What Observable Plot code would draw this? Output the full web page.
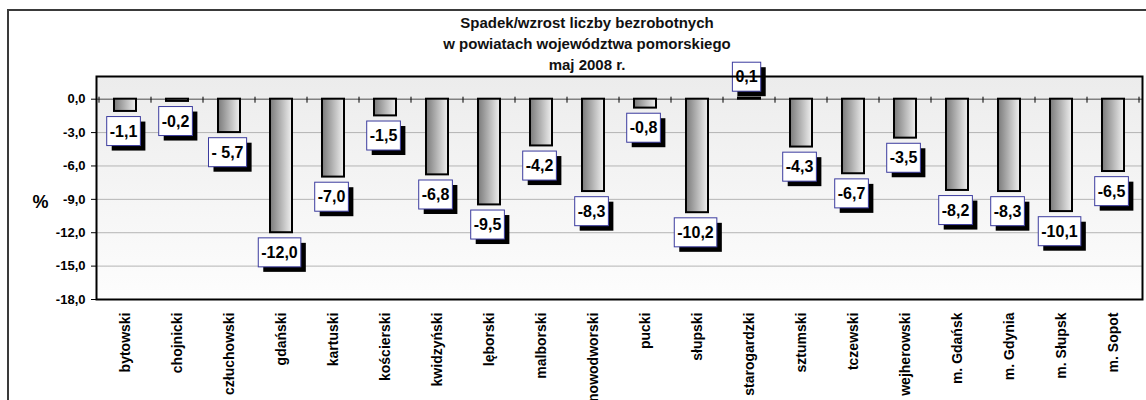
<!DOCTYPE html>
<html><head><meta charset="utf-8">
<script src="https://cdn.jsdelivr.net/npm/d3@7"></script>
<script src="https://cdn.jsdelivr.net/npm/@observablehq/plot@0.6"></script>
<style>
html,body{margin:0;padding:0;background:#fff;overflow:hidden;width:1146px;height:400px;}
#wrap{position:relative;width:1146px;height:400px;font-family:"Liberation Sans",Arial,sans-serif;}
#outer{position:absolute;left:7px;top:9px;width:1200px;height:500px;border:2px solid #3a3a3a;box-sizing:border-box;}
#title{position:absolute;left:387px;width:400px;top:12px;text-align:center;font-weight:bold;font-size:15px;line-height:21px;color:#111;}
#chart{position:absolute;left:0;top:0;}
</style></head><body>
<div id="wrap"><div id="outer"></div><div id="chart"></div>
<div id="title">Spadek/wzrost liczby bezrobotnych<br>w powiatach województwa pomorskiego<br>maj 2008 r.</div></div>
<script>
const categories = ["bytowski","chojnicki","człuchowski","gdański","kartuski","kościerski","kwidzyński","lęborski","malborski","nowodworski","pucki","słupski","starogardzki","sztumski","tczewski","wejherowski","m. Gdańsk","m. Gdynia","m. Słupsk","m. Sopot"];
const values = [-1.1,-0.2,-3.0,-12.0,-7.0,-1.5,-6.8,-9.5,-4.2,-8.3,-0.8,-10.2,0.1,-4.3,-6.7,-3.5,-8.2,-8.3,-10.1,-6.5];
const labels = ["-1,1","-0,2","- 5,7","-12,0","-7,0","-1,5","-6,8","-9,5","-4,2","-8,3","-0,8","-10,2","0,1","-4,3","-6,7","-3,5","-8,2","-8,3","-10,1","-6,5"];
const yTicks = [0,-3,-6,-9,-12,-15,-18];
const gridLines = [-3,-6,-9,-12,-15];
const yDomain = [-18, 2.04];

const data = categories.map((c,i)=>({name:c, value:values[i], label:labels[i]}));

function zeroTicks(index, scales) {
  const x = scales.x, y = scales.y;
  const step = x(categories[1]) - x(categories[0]);
  const y0 = y(0);
  const g = d3.create("svg:g");
  for (let i = 0; i <= categories.length; i++) {
    const px = i < categories.length ? x(categories[i]) : x(categories[categories.length-1]) + step;
    g.append("line").attr("x1", px).attr("x2", px).attr("y1", y0 - 2).attr("y2", y0 + 4)
      .attr("stroke", "#000").attr("stroke-width", 1);
  }
  return g.node();
}

const svg = Plot.plot({
  width: 1146, height: 400,
  marginLeft: 96, marginRight: 4, marginTop: 76, marginBottom: 101,
  style: {fontFamily: "Liberation Sans, Arial, sans-serif", fontSize: "14px", fontWeight: "bold", background: "transparent", color: "#000", overflow: "visible"},
  x: {type: "band", domain: categories, padding: 0, label: null, tickSize: 0, tickPadding: 13, tickRotate: -90},
  y: {domain: yDomain, ticks: yTicks, tickFormat: d => d.toFixed(1).replace(".", ","), tickSize: 5, tickPadding: 6, label: null},
  marks: [
    Plot.frame({fill: "url(#bgGrad)", stroke: "none"}),
    Plot.ruleY(gridLines, {stroke: "#b4b4b4", strokeWidth: 1}),
    Plot.ruleY([0], {stroke: "#808080", strokeWidth: 1.5}),
    zeroTicks,
    Plot.barY(data, {x: "name", y: "value", fill: "url(#barGrad)", stroke: "#000", strokeWidth: 2, insetLeft: 15, insetRight: 15}),
    Plot.text(data.filter(d => d.value < 0), {x: "name", y: "value", text: "label", dy: 20, dx: -2, fontSize: 16}),
    Plot.text(data.filter(d => d.value >= 0), {x: "name", y: "value", text: "label", dy: -21, dx: -3, fontSize: 16}),
    Plot.text(["%"], {frameAnchor: "left", textAnchor: "middle", dx: -56, dy: 14, fontSize: 18}),
    Plot.frame({stroke: "#000", strokeWidth: 2})
  ]
});
document.getElementById("chart").appendChild(svg);

const sel = d3.select(svg);
const defs = sel.insert("defs", ":first-child");
const bg = defs.append("linearGradient").attr("id", "barGrad").attr("x1", 0).attr("x2", 1).attr("y1", 0).attr("y2", 0);
bg.append("stop").attr("offset", 0).attr("stop-color", "#7a7a7a");
bg.append("stop").attr("offset", 1).attr("stop-color", "#f0f0f0");
const pg = defs.append("linearGradient").attr("id", "bgGrad").attr("x1", 0).attr("x2", 0).attr("y1", 0).attr("y2", 1);
pg.append("stop").attr("offset", 0).attr("stop-color", "#ececec");
pg.append("stop").attr("offset", 1).attr("stop-color", "#fdfdfd");

sel.selectAll('g[aria-label^="y-axis"]').style("font-size", "13px");

const ns = "http://www.w3.org/2000/svg";
const labelSet = new Set(labels);
sel.selectAll('g[font-size="16"] text').each(function() {
  if (!labelSet.has(this.textContent)) return;
  const b = this.getBBox();
  const tr = this.getAttribute("transform");
  const bw = b.width + 6, bh = 29;
  const cx = b.x + b.width / 2, cy = b.y + b.height / 2;
  const parent = this.parentNode;
  const sh = document.createElementNS(ns, "rect");
  sh.setAttribute("x", cx - bw / 2 + 5); sh.setAttribute("y", cy - bh / 2 + 5);
  sh.setAttribute("width", bw); sh.setAttribute("height", bh); sh.setAttribute("fill", "#000");
  const box = document.createElementNS(ns, "rect");
  box.setAttribute("x", cx - bw / 2); box.setAttribute("y", cy - bh / 2);
  box.setAttribute("width", bw); box.setAttribute("height", bh);
  box.setAttribute("fill", "#fff"); box.setAttribute("stroke", "#3b3b9e"); box.setAttribute("stroke-width", 1);
  if (tr) { sh.setAttribute("transform", tr); box.setAttribute("transform", tr); }
  parent.insertBefore(sh, this); parent.insertBefore(box, this);
});
</script>
</body></html>
